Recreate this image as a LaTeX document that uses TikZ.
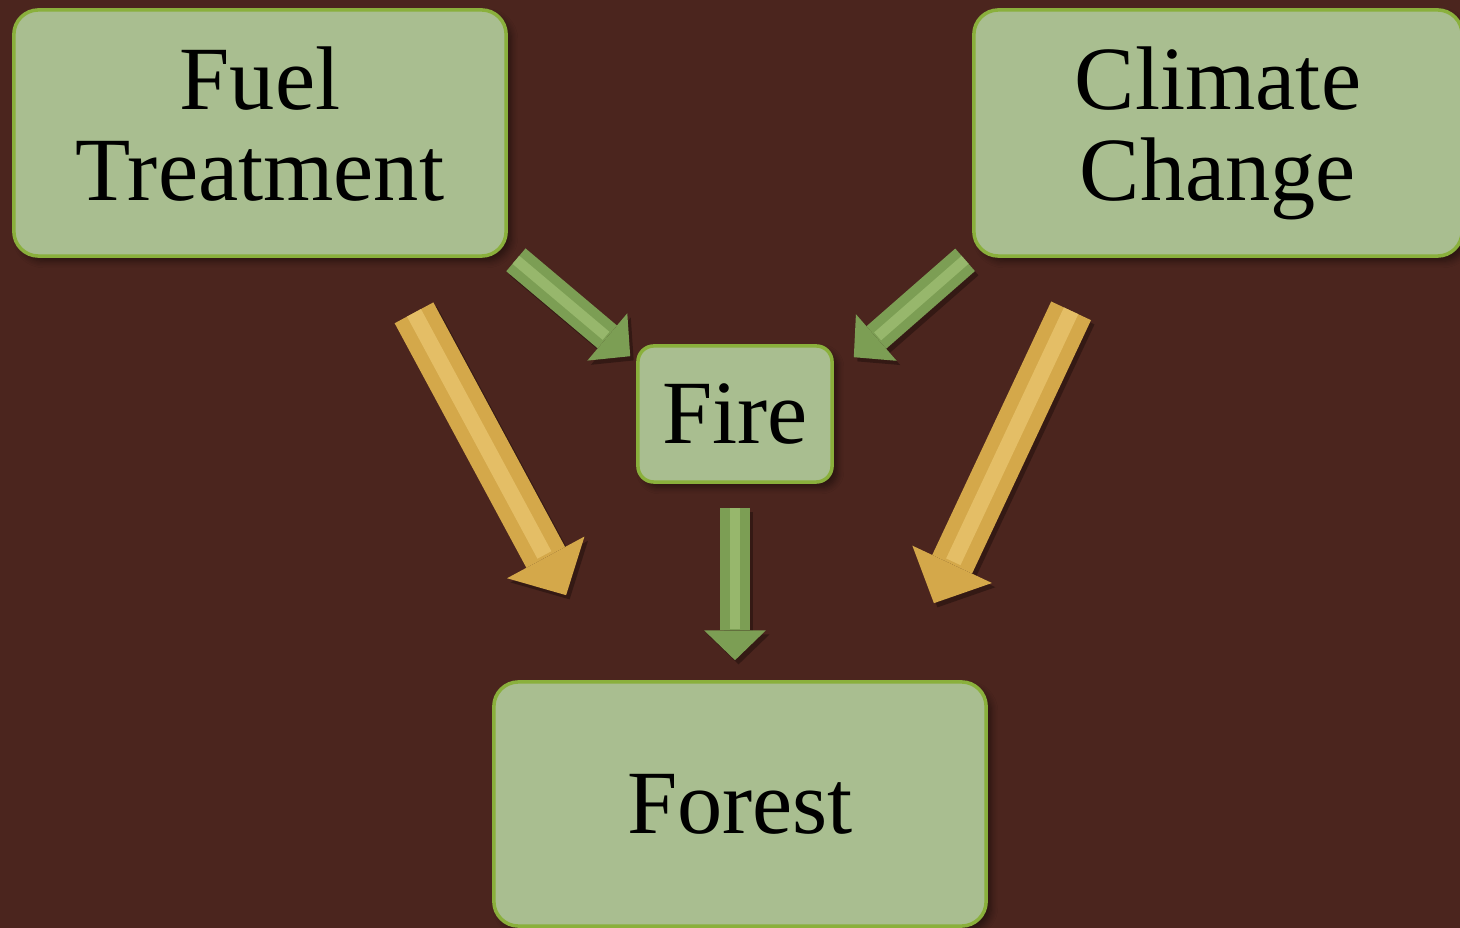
\documentclass[tikz,border=0pt]{standalone}
\usepackage{fontspec}
\setmainfont{Liberation Serif}
\usetikzlibrary{arrows.meta,shadows.blur}
\definecolor{bark}{RGB}{75,37,30}
\definecolor{moss}{RGB}{169,190,144}
\definecolor{mossedge}{RGB}{138,176,60}
\definecolor{leaf}{RGB}{124,158,84}
\definecolor{leaflight}{RGB}{158,190,114}
\definecolor{straw}{RGB}{212,168,74}
\definecolor{strawlight}{RGB}{232,196,110}
\tikzset{
	box/.style={
			draw=mossedge, line width=1pt, fill=moss, rounded corners=7pt,
			align=center, inner sep=0pt,
			font=\fontsize{25.7}{25.9}\selectfont,
			blur shadow={shadow xshift=1.5pt, shadow yshift=-1.5pt, shadow blur steps=6, shadow opacity=45}
		},
	greenarrow/.style={line width=8.5pt, leaf, -{Triangle[length=8.5pt, width=17.6pt, line width=0pt]}},
	yellowarrow/.style={line width=12.5pt, straw, -{Triangle[length=12.2pt, width=25pt, line width=0pt]}},
	arrowshadow/.style={black, opacity=0.3, transform canvas={shift={(1pt,-1.2pt)}}},
	shine/.style={line width=#1, shorten >=9pt, opacity=0.8}
}

\begin{document}
\begin{tikzpicture}[x=0.01cm, y=-0.01cm]
		\fill[bark] (0, 0) rectangle (1460, 928);
		\useasboundingbox (0, 0) rectangle (1460, 928);

		\node[box, minimum width=4.92cm, minimum height=2.46cm] (fuel) at (260, 133) {Fuel\\Treatment\vphantom{g}};
		\node[box, minimum width=4.88cm, minimum height=2.46cm] (climate) at (1218, 133) {Climate\\Change};
		\node[box, rounded corners=4.5pt, minimum width=1.94cm, minimum height=1.36cm] (fire) at (735, 414) {Fire};
		\node[box, minimum width=4.92cm, minimum height=2.44cm] (forest) at (740, 804) {Forest};

		\coordinate (ft-a) at ([shift={(8, 2)}]fuel.south east);
		\coordinate (ft-b) at ([shift={(-6, 12)}]fire.north west);
		\coordinate (cc-a) at ([shift={(-7, 2)}]climate.south west);
		\coordinate (cc-b) at ([shift={(20, 13)}]fire.north east);
		\coordinate (fi-a) at ([shift={(0, 24)}]fire.south);
		\coordinate (fi-b) at ([shift={(0, -20)}]fire.south |- forest.north);
		\coordinate (fo-a) at ([shift={(154, 55)}]fuel.south);
		\coordinate (fo-b) at ([shift={(74, -85)}]forest.north west);
		\coordinate (co-a) at ([shift={(99, 53)}]climate.south west);
		\coordinate (co-b) at ([shift={(-54, -77)}]forest.north east);

		% shadows
		\draw[greenarrow, arrowshadow] (ft-a) to (ft-b);
		\draw[greenarrow, arrowshadow] (cc-a) to (cc-b);
		\draw[greenarrow, arrowshadow] (fi-a) to (fi-b);
		\draw[yellowarrow, arrowshadow] (fo-a) to (fo-b);
		\draw[yellowarrow, arrowshadow] (co-a) to (co-b);

		% arrows
		\draw[greenarrow] (ft-a) to (ft-b);
		\draw[greenarrow] (cc-a) to (cc-b);
		\draw[greenarrow] (fi-a) to (fi-b);
		\draw[yellowarrow] (fo-a) to (fo-b);
		\draw[yellowarrow] (co-a) to (co-b);

		\draw[shine=3pt, leaflight] (ft-a) to (ft-b);
		\draw[shine=3pt, leaflight] (cc-a) to (cc-b);
		\draw[shine=3pt, leaflight] (fi-a) to (fi-b);
		\draw[shine=4.5pt, strawlight, shorten >=13pt] (fo-a) to (fo-b);
		\draw[shine=4.5pt, strawlight, shorten >=13pt] (co-a) to (co-b);
	\end{tikzpicture}
\end{document}
